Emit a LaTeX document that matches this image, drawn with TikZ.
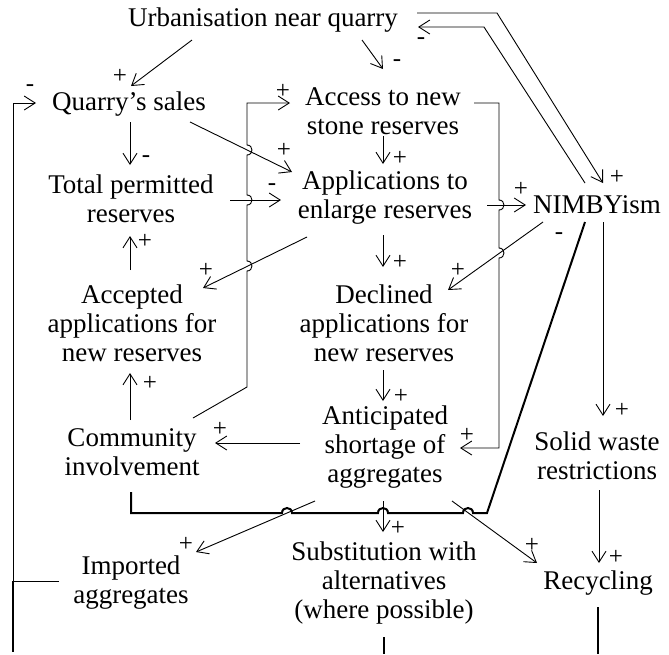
\documentclass[tikz,border=0pt]{standalone}
\usepackage{fontspec}
\setmainfont{Liberation Serif}
\usepackage{tikz}
\usetikzlibrary{arrows.meta}

\begin{document}
\begin{tikzpicture}[x=1pt, y=-1pt,
    factor/.style={align=center, inner sep=0pt, font=\fontsize{27}{29}\selectfont},
    sgn/.style={inner sep=0pt, font=\fontsize{25}{25}\selectfont},
    link/.style={line width=0.9pt, -{Straight Barb[length=11pt,width=14pt]}},
    plain/.style={line width=0.9pt},
    heavy/.style={line width=2pt},
    hopr/.style={out=0, in=0, looseness=1.7},
    hopu/.style={out=90, in=90, looseness=1.7}]

\useasboundingbox (0,0) rectangle (669,654);

% Factors
\node[factor] (urb) at (263,20) {Urbanisation near quarry};
\node[factor] (sales) at (129,104) {Quarry’s sales};
\node[factor] (access) at (383,111) {Access to new\\stone reserves};
\node[factor] (tpr) at (131,199) {Total permitted\\reserves};
\node[factor] (appl) at (385,198) {Applications to\\enlarge reserves};
\node[factor] (nimby) at (597,205) {NIMBYism};
\node[factor] (acc) at (132,323) {Accepted\\applications for\\new reserves};
\node[factor] (dec) at (384,323) {Declined\\applications for\\new reserves};
\node[factor] (ant) at (385,447) {Anticipated\\shortage of\\aggregates};
\node[factor] (comm) at (132,452) {Community\\involvement};
\node[factor] (solid) at (597,456) {Solid waste\\restrictions};
\node[factor] (imp) at (131,583) {Imported\\aggregates};
\node[factor] (subs) at (384,583) {Substitution with\\alternatives\\(where possible)};
\node[factor] (recy) at (598,583) {Recycling};
\coordinate (bot) at (0,654);

% Urbanisation
\draw[link] ([shift={(-71,20)}]urb.center) -- ([shift={(2,-18)}]sales.center) node[sgn, xshift=-11pt, yshift=10pt] (sUrbSales) {+};
\draw[link] ([shift={(99,20)}]urb.center) -- ([shift={(0,-42)}]access.center) node[sgn, xshift=14pt, yshift=6pt] (sUrbAccess) {-};
\draw[link] ([shift={(154,-7)}]urb.center) -- ++(80,0) -- ([shift={(6,-22)}]nimby.center) node[sgn, xshift=14pt, yshift=6pt] (sUrbNimby) {+};
\draw[link] ([shift={(-12,-22)}]nimby.center) -- ([shift={(221,7)}]urb.center) -- ([shift={(155,7)}]urb.center) node[sgn, xshift=3pt, yshift=-14pt] (sNimbyUrb) {-};

% Left column
\draw[link] ([shift={(1,18)}]sales.center) -- ([shift={(-1,-34)}]tpr.center) node[sgn, xshift=16pt, yshift=6pt] (sSalesTpr) {-};
\draw[link] ([shift={(-2,-53)}]acc.center) -- ([shift={(-1,37)}]tpr.center) node[sgn, xshift=15pt, yshift=-5pt] (sAccTpr) {+};
\draw[link] ([shift={(-2,-32)}]comm.center) -- ([shift={(-2,50)}]acc.center) node[sgn, xshift=20pt, yshift=-10pt] (sCommAcc) {+};

% Into and out of the applications
\draw[link] ([shift={(61,18)}]sales.center) -- ([shift={(-93,-26)}]appl.center) node[sgn, xshift=-8pt, yshift=22pt] (sSalesAppl) {+};
\draw[link] ([shift={(99,1)}]tpr.center) -- ([shift={(-104,2)}]appl.center) node[sgn, xshift=-9pt, yshift=13pt] (sTprAppl) {-};
\draw[link] ([shift={(-78,39)}]appl.center) -- ([shift={(71,-35)}]acc.center) node[sgn, xshift=3pt, yshift=18pt] (sApplAcc) {+};
\draw[link] ([shift={(102,7)}]appl.center) -- ([shift={(-71,0)}]nimby.center) node[sgn, xshift=-5pt, yshift=16pt] (sApplNimby) {+};

% Middle column
\draw[link] ([shift={(0,25)}]access.center) -- ([shift={(-2,-34)}]appl.center) node[sgn, xshift=17pt, yshift=6pt] (sAccessAppl) {+};
\draw[link] ([shift={(-2,37)}]appl.center) -- ([shift={(-1,-56)}]dec.center) node[sgn, xshift=17pt, yshift=5pt] (sApplDec) {+};
\draw[link] ([shift={(-1,47)}]dec.center) -- ([shift={(-2,-46)}]ant.center) node[sgn, xshift=18pt, yshift=5pt] (sDecAnt) {+};
\draw[link] ([shift={(-85,-4)}]ant.center) -- ([shift={(83,-9)}]comm.center) node[sgn, xshift=5pt, yshift=14pt] (sAntComm) {+};

% Community involvement back up to access
\draw[link] ([shift={(61,-34)}]comm.center) -- ++(54,-31) -- ++(0,-116) to[hopr] ++(0,-10) -- ++(0,-56) to[hopr] ++(0,-10) -- ++(0,-40) to[hopr] ++(0,-10) -- ++(0,-42) -- ([shift={(-93,-8)}]access.center) node[sgn, xshift=-7pt, yshift=12pt] (sCommAccess) {+};

% Access down to the shortage
\draw[link] ([shift={(91,-8)}]access.center) -- ++(25,0) -- ++(0,97) to[hopr] ++(0,10) -- ++(0,38) to[hopr] ++(0,10) -- ++(0,190) -- ([shift={(75,1)}]ant.center) node[sgn, xshift=7pt, yshift=13pt] (sAccessAnt) {+};

% NIMBYism
\draw[link] ([shift={(-54,17)}]nimby.center) -- ([shift={(64,-33)}]dec.center) node[sgn, xshift=10pt, yshift=20pt] (sNimbyDec) {+};
\draw[link] ([shift={(6,17)}]nimby.center) -- ([shift={(6,-40)}]solid.center) node[sgn, xshift=19pt, yshift=6pt] (sNimbySolid) {+};
\draw[link] ([shift={(2,34)}]solid.center) -- ([shift={(1,-20)}]recy.center) node[sgn, xshift=17pt, yshift=6pt] (sSolidRecy) {+};
\draw[heavy] ([shift={(-12,17)}]nimby.center) node[sgn, xshift=-26pt, yshift=-14pt] (sNimbyComm) {-} -- ++(-98,291) -- ++(-14,0) to[hopu] ++(-10,0) -- ++(-75,0) to[hopu] ++(-10,0) -- ++(-86,0) to[hopu] ++(-10,0) -- ++(-151,0) -- ([shift={(-1,40)}]comm.center);

% Shortage outcomes
\draw[link] ([shift={(-70,54)}]ant.center) -- ([shift={(65,-31)}]imp.center) node[sgn, xshift=-10pt, yshift=8pt] (sAntImp) {+};
\draw[link] ([shift={(-2,54)}]ant.center) -- ([shift={(-1,-51)}]subs.center) node[sgn, xshift=15pt, yshift=4pt] (sAntSubs) {+};
\draw[link] ([shift={(67,54)}]ant.center) -- ([shift={(-61,-20)}]recy.center) node[sgn, xshift=-5pt, yshift=18pt] (sAntRecy) {+};

% Back to the sales
\draw[link] ([shift={(-72,-2)}]imp.center) -- ++(-46,0) -- ++(0,-478) -- ([shift={(-93,-1)}]sales.center) node[sgn, xshift=-6pt, yshift=15pt] (sImpSales) {-};
\draw[heavy] ([shift={(-118,-2)}]imp.center) -- ([shift={(-118,-2)}]imp.center |- bot);
\draw[heavy] ([shift={(0,54)}]subs.center) -- (subs.center |- bot);
\draw[heavy] ([shift={(0,24)}]recy.center) -- (recy.center |- bot);
\end{tikzpicture}
\end{document}
